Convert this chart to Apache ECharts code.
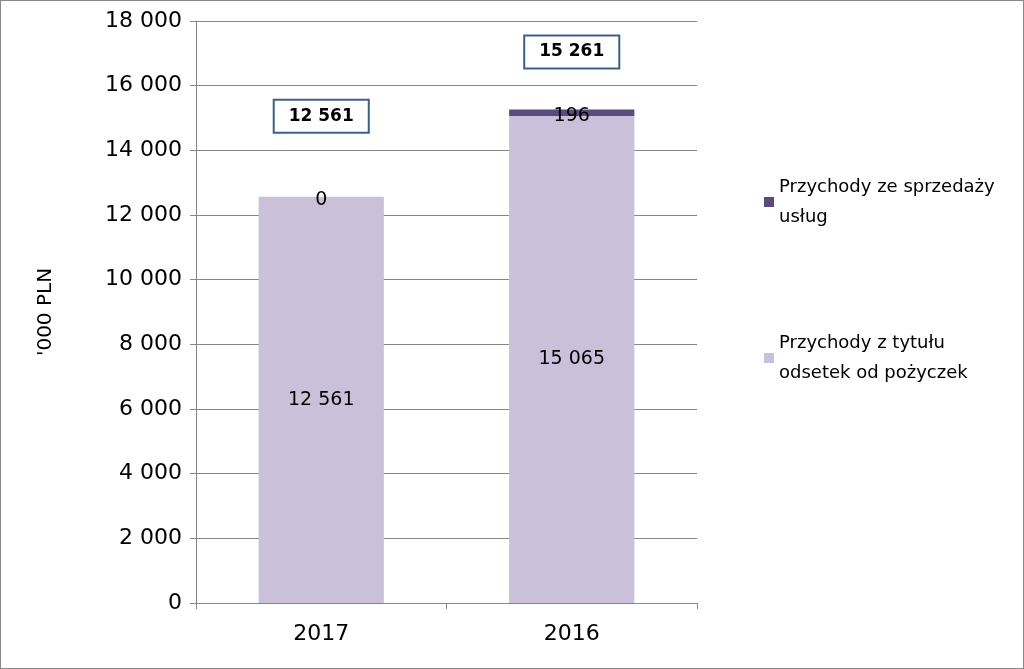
<!DOCTYPE html>
<html><head><meta charset="utf-8">
<script src="https://cdn.jsdelivr.net/npm/echarts@6/dist/echarts.min.js"></script>
<style>html,body{margin:0;padding:0;background:#fff}#c{width:1022px;height:667px;border:1px solid #888}</style>
</head><body><div id="c"></div>
<script>
const categories = ['2017', '2016'];
const seriesNames = ['Przychody ze sprzedaży\nusług', 'Przychody z tytułu\nodsetek od pożyczek'];
const interestIncome = [12561, 15065];
const serviceIncome = [0, 196];
const totals = [12561, 15261];
const yTicks = [0, 2000, 4000, 6000, 8000, 10000, 12000, 14000, 16000, 18000];

const fmt = v => String(v).replace(/\B(?=(\d{3})+(?!\d))/g, ' ');
const F = 'DejaVu Sans';
const chart = echarts.init(document.getElementById('c'));
const totalOffsets = [[0, -60], [0, -37]];
chart.setOption({
  animation: false,
  grid: {left: 195, right: 326, top: 20, bottom: 65},
  legend: {
    orient: 'vertical', left: 758, top: 166, itemGap: 96, itemWidth: 10, itemHeight: 10,
    icon: 'rect', data: [seriesNames[0], seriesNames[1]],
    textStyle: {fontFamily: F, fontSize: 18, color: '#000', lineHeight: 30}
  },
  xAxis: {
    type: 'category', data: categories,
    axisLine: {lineStyle: {color: '#868686'}},
    axisTick: {show: true, length: 6, lineStyle: {color: '#868686'}},
    axisLabel: {fontFamily: F, fontSize: 22, color: '#000', margin: 20}
  },
  yAxis: {
    type: 'value', min: yTicks[0], max: yTicks[yTicks.length - 1], interval: 2000,
    name: "'000 PLN", nameLocation: 'middle', nameGap: 140, nameRotate: 90,
    nameTextStyle: {fontFamily: F, fontSize: 20, color: '#000'},
    axisLine: {show: true, lineStyle: {color: '#868686'}},
    axisTick: {show: true, length: 6, lineStyle: {color: '#868686'}},
    splitLine: {lineStyle: {color: '#868686'}},
    axisLabel: {fontFamily: F, fontSize: 22, color: '#000', margin: 14, formatter: fmt}
  },
  series: [
    {
      name: seriesNames[1], type: 'bar', stack: 's', barWidth: '50%', data: interestIncome,
      itemStyle: {color: '#CBC0DA'},
      label: {show: true, position: 'inside', fontFamily: F, fontSize: 19, color: '#000', formatter: p => fmt(p.value)}
    },
    {
      name: seriesNames[0], type: 'bar', stack: 's', data: serviceIncome.map((v, i) => ({
        value: v,
        label: {show: true, position: 'inside', offset: [0, 3], formatter: fmt(v)}
      })),
      itemStyle: {color: '#5B4A7E'},
      label: {fontFamily: F, fontSize: 19, color: '#000'}
    },
    {
      name: 'total', type: 'bar', stack: 's', data: totals.map((t, i) => ({
        value: 0,
        label: {show: true, position: 'top', offset: totalOffsets[i], formatter: fmt(t)}
      })),
      itemStyle: {color: 'transparent'},
      label: {fontFamily: F, fontSize: 17, fontWeight: 'bold', color: '#000',
        backgroundColor: '#fff', borderColor: '#3C6088', borderWidth: 2,
        padding: [7, 14, 7, 14]}
    }
  ]
});
</script></body></html>
